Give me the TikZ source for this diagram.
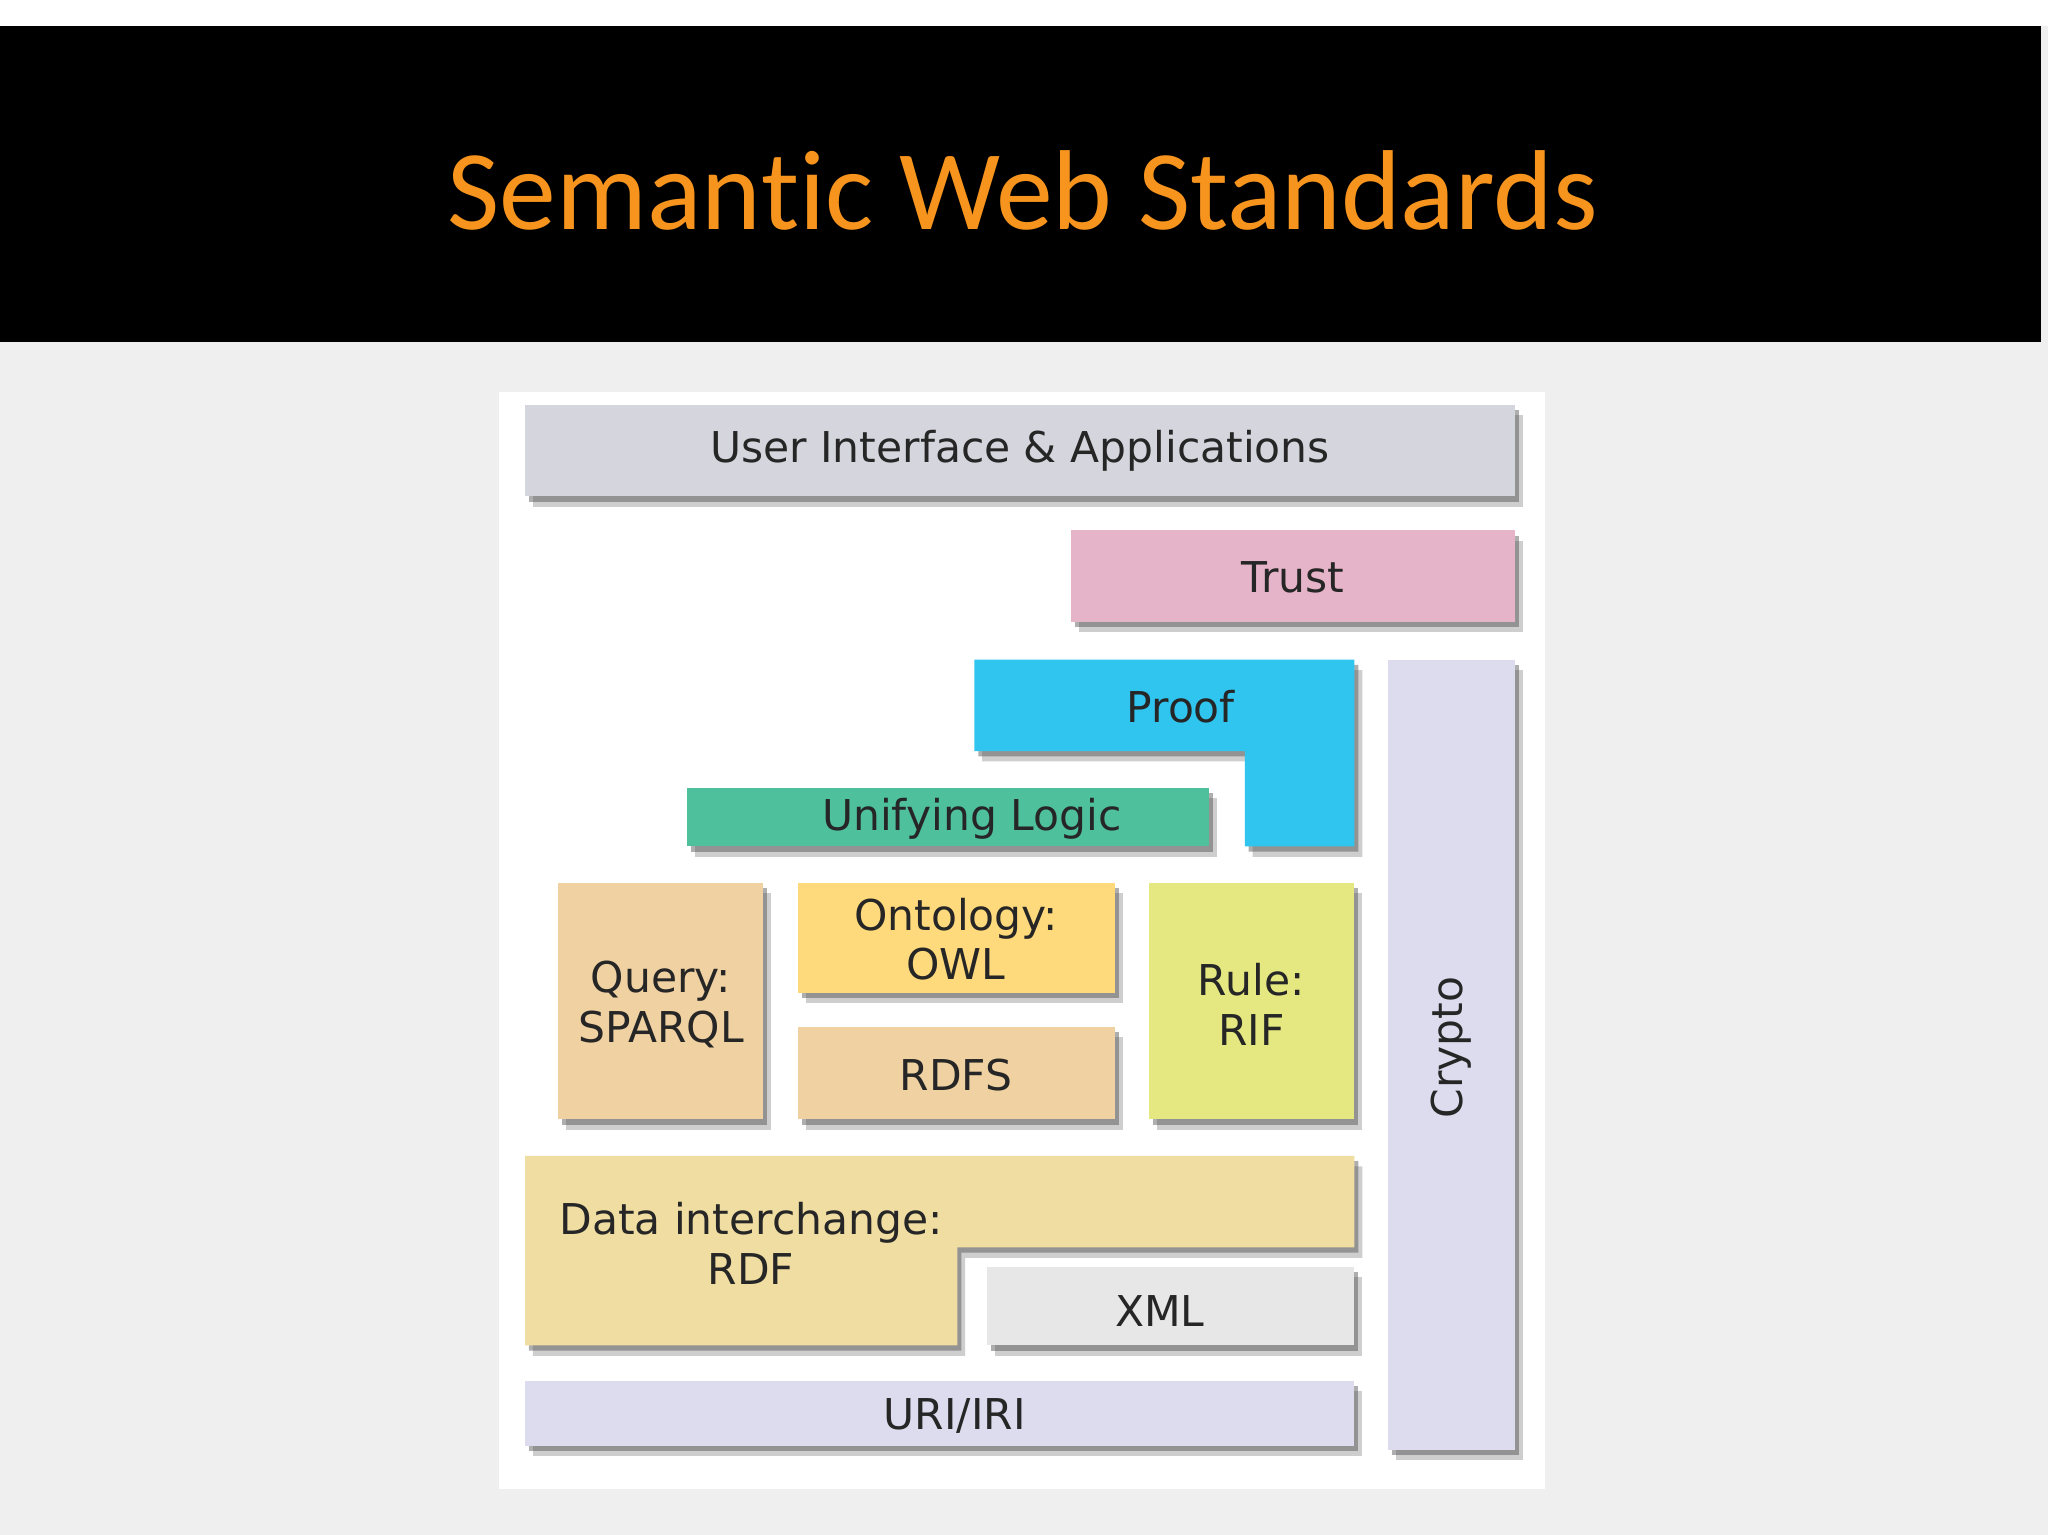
\documentclass[tikz,border=0pt]{standalone}
\usepackage{fontspec}
\setmainfont{DejaVu Sans}
\newfontfamily\titlefont{Carlito}[Ligatures=NoCommon]
\definecolor{bgc}{HTML}{EFEFEF}
\definecolor{ttl}{HTML}{F7941D}
\definecolor{cui}{HTML}{D5D5DD}
\definecolor{ctrust}{HTML}{E6B4C8}
\definecolor{cproof}{HTML}{2FC5EF}
\definecolor{clogic}{HTML}{4EC09B}
\definecolor{cq}{HTML}{F0D1A2}
\definecolor{cowl}{HTML}{FFDA7C}
\definecolor{crule}{HTML}{E5E881}
\definecolor{crdf}{HTML}{F0DDA2}
\definecolor{cxml}{HTML}{E7E7E7}
\definecolor{curi}{HTML}{DCDCEE}
\begin{document}
\begin{tikzpicture}[x=1pt,y=-1pt,
  lbl/.style={font=\fontsize{32.5}{38}\selectfont, text=black!85, align=center},
  sh/.style={fill=black!55, opacity=0.35, shift={(6,8)}},
  sh2/.style={fill=black!70, opacity=0.45, shift={(3,4)}}]
\useasboundingbox (0,0) rectangle (1568,1175);
\fill[bgc] (0,0) rectangle (1568,1175);
\fill[white] (0,0) rectangle (1568,20);
\fill[black] (0,20) rectangle (1563,262);
\node[text=ttl, font=\titlefont\fontsize{87}{95}\selectfont] (title) at (783,146) {Seman\kern0pt tic Web Standards};
\fill[white] (382,300) rectangle (1183,1140);
% shadows
\foreach \s in {sh,sh2}{
 \fill[\s] (402,310) rectangle (1160,380);
 \fill[\s] (820,406) rectangle (1160,476);
 \fill[\s] (746,505) -- (1037,505) -- (1037,648) -- (953,648) -- (953,575) -- (746,575) -- cycle;
 \fill[\s] (526,603) rectangle (926,648);
 \fill[\s] (427,676) rectangle (584,857);
 \fill[\s] (611,676) rectangle (854,760);
 \fill[\s] (611,786) rectangle (854,857);
 \fill[\s] (880,676) rectangle (1037,857);
 \fill[\s] (402,885) -- (1037,885) -- (1037,955) -- (733,955) -- (733,1030) -- (402,1030) -- cycle;
 \fill[\s] (756,970) rectangle (1037,1030);
 \fill[\s] (402,1057) rectangle (1037,1107);
 \fill[\s] (1063,505) rectangle (1160,1110);
}
\fill[cui] (402,310) rectangle (1160,380);
\node[lbl] (ui) at (781,345) {User Interface \& Applications};
\fill[ctrust] (820,406) rectangle (1160,476);
\node[lbl] (trust) at (990,442) {Trust};
\fill[cproof] (746,505) -- (1037,505) -- (1037,648) -- (953,648) -- (953,575) -- (746,575) -- cycle;
\node[lbl] (proof) at (904,541) {Proof};
\fill[clogic] (526,603) rectangle (926,648);
\node[lbl] (logic) at (744,627) {Unifying Logic};
\fill[cq] (427,676) rectangle (584,857);
\node[lbl] (query) at (506,769) {Query:\\SPARQL};
\fill[cowl] (611,676) rectangle (854,760);
\node[lbl] (owl) at (732,719) {Ontology:\\OWL};
\fill[cq] (611,786) rectangle (854,857);
\node[lbl] (rdfs) at (732,823) {RDFS};
\fill[crule] (880,676) rectangle (1037,857);
\node[lbl] (rule) at (958,769) {Rule:\\RIF};
\fill[crdf] (402,885) -- (1037,885) -- (1037,955) -- (733,955) -- (733,1030) -- (402,1030) -- cycle;
\node[lbl] (rdf) at (575,952) {Data interchange:\\RDF};
\fill[cxml] (756,970) rectangle (1037,1030);
\node[lbl] (xml) at (888,1004) {XML};
\fill[curi] (402,1057) rectangle (1037,1107);
\node[lbl] (uri) at (731,1084) {URI/IRI};
\fill[curi] (1063,505) rectangle (1160,1110);
\node[lbl, rotate=90] (crypto) at (1111,802) {Crypto};
\end{tikzpicture}
\end{document}
